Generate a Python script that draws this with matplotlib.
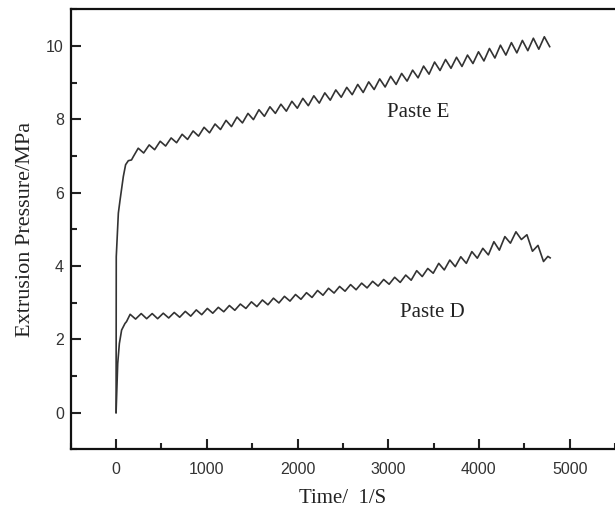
"""
Extrusion pressure vs. time for Paste D and Paste E.
"""

import matplotlib
matplotlib.use("Agg")
import matplotlib.pyplot as plt
from matplotlib.ticker import MultipleLocator

# Paste E: initial rise, then alternating peaks / troughs of the ram oscillation
e_time = [0, 2, 25, 44, 80, 105, 135, 170, 190,
          244, 304, 365, 425, 486, 546, 607, 667, 728, 788, 849, 909,
          970, 1030, 1091, 1151, 1212, 1272, 1333, 1393, 1454, 1514,
          1575, 1635, 1696, 1756, 1817, 1877, 1938, 1998, 2059, 2119,
          2180, 2240, 2301, 2361, 2422, 2482, 2543, 2603, 2664, 2724,
          2785, 2845, 2906, 2966, 3027, 3087, 3148, 3208, 3269, 3329,
          3390, 3450, 3511, 3571, 3632, 3692, 3753, 3813, 3874, 3934,
          3995, 4055, 4116, 4176, 4237, 4297, 4358, 4418, 4479, 4539,
          4600, 4660, 4721, 4780]
e_pressure = [0.0, 4.25, 5.44, 5.80, 6.44, 6.76, 6.87, 6.89, 6.98,
              7.21, 7.08, 7.30, 7.17, 7.40, 7.27, 7.49, 7.36, 7.59, 7.45, 7.68, 7.54,
              7.78, 7.63, 7.87, 7.72, 7.97, 7.80, 8.06, 7.90, 8.16, 7.99,
              8.26, 8.08, 8.34, 8.16, 8.41, 8.22, 8.49, 8.30, 8.57, 8.37,
              8.64, 8.44, 8.72, 8.52, 8.80, 8.60, 8.87, 8.67, 8.95, 8.73,
              9.02, 8.81, 9.10, 8.88, 9.17, 8.95, 9.25, 9.04, 9.34, 9.13,
              9.45, 9.23, 9.56, 9.33, 9.63, 9.39, 9.69, 9.44, 9.75, 9.52,
              9.84, 9.59, 9.93, 9.67, 10.02, 9.75, 10.09, 9.81, 10.15, 9.87,
              10.21, 9.91, 10.25, 9.98]

# Paste D
d_time = [0, 18, 36, 61, 98, 115,
          155, 215, 277, 337, 398, 458, 520, 580, 641, 701, 763, 823,
          884, 944, 1006, 1066, 1127, 1187, 1249, 1309, 1370, 1431,
          1492, 1552, 1613, 1674, 1735, 1795, 1856, 1917, 1978, 2038,
          2099, 2160, 2221, 2281, 2342, 2403, 2464, 2524, 2585, 2646,
          2707, 2767, 2828, 2889, 2950, 3010, 3071, 3132, 3193, 3253,
          3314, 3375, 3436, 3496, 3557, 3618, 3679, 3739, 3800, 3861,
          3922, 3982, 4043, 4104, 4165, 4225, 4286, 4347, 4408, 4468,
          4529, 4590, 4651, 4712, 4760, 4785]
d_pressure = [0.0, 1.34, 1.88, 2.25, 2.43, 2.48,
              2.68, 2.55, 2.70, 2.56, 2.70, 2.56, 2.71, 2.58, 2.73, 2.60, 2.76, 2.63,
              2.80, 2.67, 2.84, 2.71, 2.87, 2.75, 2.92, 2.79, 2.96, 2.84,
              3.02, 2.89, 3.07, 2.94, 3.12, 2.99, 3.17, 3.04, 3.22, 3.09,
              3.27, 3.14, 3.33, 3.20, 3.39, 3.26, 3.44, 3.31, 3.49, 3.35,
              3.53, 3.40, 3.58, 3.45, 3.63, 3.50, 3.69, 3.55, 3.75, 3.61,
              3.87, 3.71, 3.93, 3.80, 4.07, 3.89, 4.16, 3.98, 4.25, 4.07,
              4.39, 4.21, 4.48, 4.30, 4.66, 4.43, 4.80, 4.62, 4.93, 4.72,
              4.85, 4.40, 4.56, 4.12, 4.26, 4.22]

x_ticks = [0, 1000, 2000, 3000, 4000, 5000]
y_ticks = [0, 2, 4, 6, 8, 10]


def draw_chart(out_path="out.png"):
    fig = plt.figure(figsize=(6.15, 5.14), dpi=100)
    ax = fig.add_axes([0.115, 0.126, 0.885, 0.856])

    line_kw = dict(color="#333333", linewidth=1.2, solid_joinstyle="round")
    ax.plot(e_time, e_pressure, **line_kw)
    ax.plot(d_time, d_pressure, **line_kw)

    ax.set_xlim(-500, 5500)
    ax.set_ylim(-1, 11)
    ax.set_xticks(x_ticks)
    ax.set_yticks(y_ticks)
    ax.xaxis.set_minor_locator(MultipleLocator(500))
    ax.yaxis.set_minor_locator(MultipleLocator(1))

    ax.tick_params(which="both", direction="in", top=False, right=False,
                   width=1.5, colors="#222222")
    ax.tick_params(which="major", length=7)
    ax.tick_params(which="minor", length=4)
    ax.tick_params(axis="x", which="major", pad=9)
    ax.tick_params(axis="y", which="major", pad=5)
    for lbl in ax.get_xticklabels() + ax.get_yticklabels():
        lbl.set_fontfamily("Liberation Sans")
        lbl.set_fontsize(11.5)
        lbl.set_color("#333333")

    for side in ["left", "bottom", "top"]:
        ax.spines[side].set_linewidth(1.6)
        ax.spines[side].set_color("#111111")
    ax.spines["right"].set_visible(False)

    serif = dict(family="Liberation Serif", color="#222222")
    ax.set_xlabel("Time/  1/S", fontsize=15, labelpad=9, **serif)
    ax.set_ylabel("Extrusion Pressure/MPa", fontsize=16, labelpad=8, **serif)

    ax.text(3330, 8.18, "Paste E", fontsize=15, ha="center", va="center", **serif)
    ax.text(3490, 2.72, "Paste D", fontsize=15, ha="center", va="center", **serif)

    fig.savefig(out_path, dpi=100)
    plt.close(fig)


if __name__ == "__main__":
    draw_chart()
